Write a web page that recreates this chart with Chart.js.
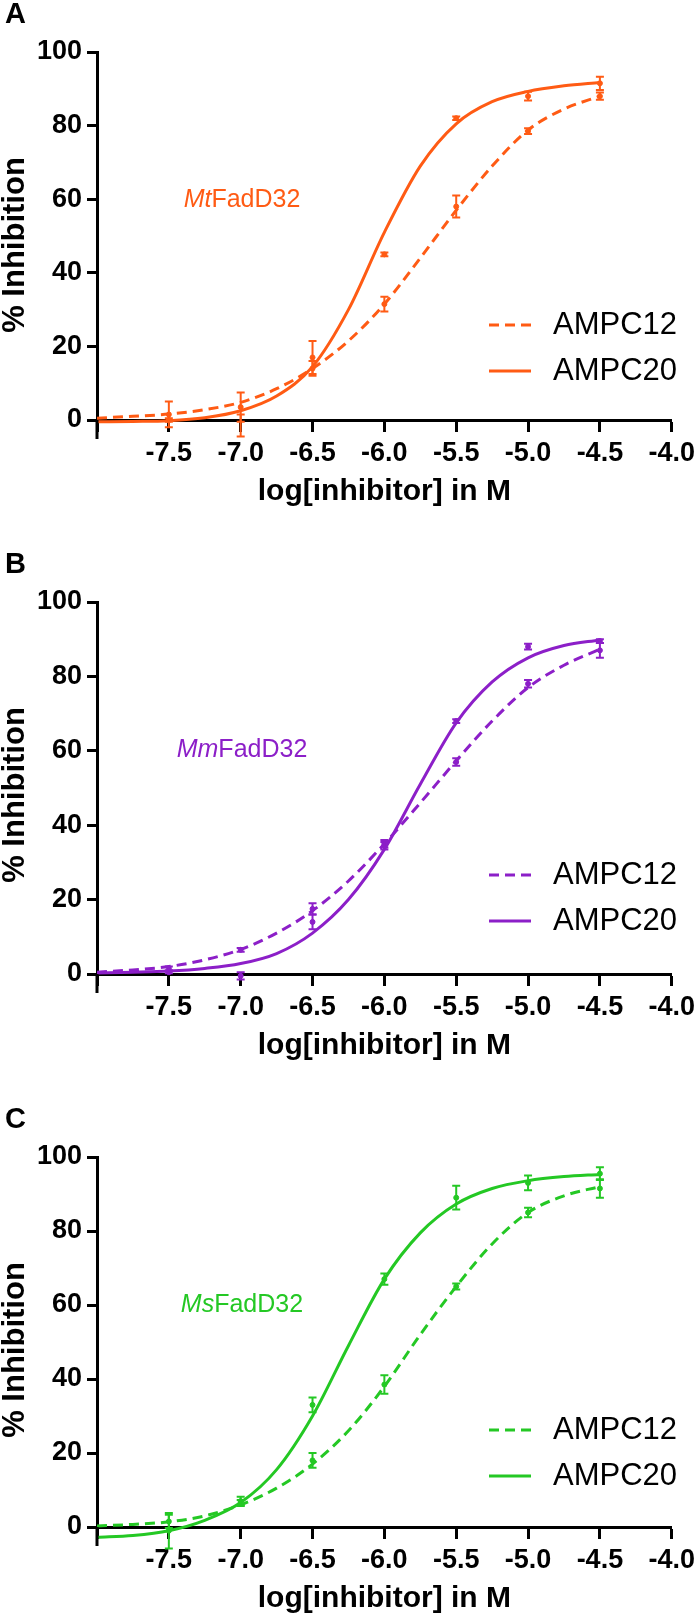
<!DOCTYPE html>
<html>
<head>
<meta charset="utf-8">
<script src="https://cdn.jsdelivr.net/npm/chart.js@4.4.1/dist/chart.umd.min.js"></script>
<style>
html, body { margin:0; padding:0; background:#fff; }
#wrap { position:relative; width:700px; height:1616px; }
canvas { position:absolute; left:0; }
</style>
</head>
<body>
<div id="wrap">
<canvas id="chartA" width="700" height="540" style="top:0px"></canvas>
<canvas id="chartB" width="700" height="540" style="top:540px"></canvas>
<canvas id="chartC" width="700" height="536" style="top:1080px"></canvas>
</div>
<script>
// tick labels
const xTickValues = [-8.0, -7.5, -7.0, -6.5, -6.0, -5.5, -5.0, -4.5, -4.0];
const yTickValues = [0, 20, 40, 60, 80, 100];
const seriesNames = ['AMPC12', 'AMPC20'];

// log[inhibitor] of the measured points
const concLog = [-7.5, -7.0, -6.5, -6.0, -5.5, -5.0, -4.5];
const fitLog = [-8.0, -7.75, -7.5, -7.25, -7.0, -6.75, -6.5, -6.25, -6.0, -5.75, -5.5, -5.25, -5.0, -4.75, -4.5];

// panel A - MtFadD32
const fitA12 = [0.5, 1.0, 1.6, 2.8, 4.8, 8.5, 14, 21.5, 31.5, 44, 57, 69, 78.8, 84.5, 88];
const fitA20 = [-0.5, -0.4, -0.2, 0.6, 2.5, 6.5, 14.5, 30, 51, 69, 80.5, 86.5, 89.3, 90.8, 91.7];
const meanA12 = [1.5, 3.5, 14, 31.5, 58, 78.5, 88];
const errA12  = [3.5, 4, 2, 2, 3, 0.8, 1];
const meanA20 = [0, -1.5, 17, 45, 82, 88, 91.5];
const errA20  = [0.5, 3, 4.5, 0.5, 0.5, 1.2, 1.8];

// panel B - MmFadD32
const fitB12 = [0.5, 1.1, 2, 3.8, 6.6, 11, 17, 25, 35, 46, 57.3, 68, 77, 83, 87.3];
const fitB20 = [0.3, 0.5, 0.8, 1.5, 2.8, 5.5, 11, 20, 33.5, 51, 67.5, 78.5, 85, 88.3, 89.8];
const meanB12 = [1.5, 6.5, 17.5, 34.5, 57, 78, 87];
const errB12  = [0.5, 0.5, 1.5, 1, 1, 1, 2];
const meanB20 = [0.5, -0.5, 14, 35, 68, 88, 89.5];
const errB20  = [0.3, 1, 2, 1, 0.5, 0.8, 0.5];

// panel C - MsFadD32
const fitC12 = [0.3, 0.7, 1.4, 3, 6, 10.5, 17, 26, 38, 52, 65, 76.5, 85, 89.5, 92];
const fitC20 = [-2.8, -2.3, -1, 1.8, 6.6, 15.5, 30, 49, 67, 79.5, 87.3, 91.5, 93.6, 94.7, 95.3];
const meanC12 = [1.5, 6.5, 18, 38.5, 65, 85, 91.5];
const errC12  = [1.8, 0.8, 2, 2.5, 0.8, 1.3, 2.5];
const meanC20 = [-1, 7, 33, 67, 89, 93, 95.5];
const errC20  = [4.8, 1.2, 2, 1.5, 3.2, 2, 1.7];

Chart.defaults.font.family = '"Liberation Sans", Arial, sans-serif';
Chart.defaults.color = '#000';

const decor = {
    id: 'decor',
    afterDatasetsDraw(chart, args, o) {
        const ctx = chart.ctx, xs = chart.scales.x, ys = chart.scales.y;
        const top = chart.chartArea.top;
        ctx.save();
        // error bars
        chart.data.datasets.forEach(ds => {
            if (!ds.errors) return;
            ctx.strokeStyle = ds.borderColor;
            ctx.lineWidth = 2;
            ds.data.forEach((p, j) => {
                const e = ds.errors[j];
                const px = xs.getPixelForValue(p.x);
                const y1 = ys.getPixelForValue(p.y + e), y2 = ys.getPixelForValue(p.y - e);
                ctx.beginPath();
                ctx.moveTo(px, y1); ctx.lineTo(px, y2);
                ctx.moveTo(px - 4, y1); ctx.lineTo(px + 4, y1);
                ctx.moveTo(px - 4, y2); ctx.lineTo(px + 4, y2);
                ctx.stroke();
            });
        });
        // y axis runs a little below the x axis
        ctx.strokeStyle = '#000';
        ctx.lineWidth = 3;
        ctx.beginPath();
        ctx.moveTo(chart.chartArea.left, chart.chartArea.bottom);
        ctx.lineTo(chart.chartArea.left, chart.chartArea.bottom + 19);
        ctx.stroke();
        // legend
        chart.data.datasets.filter(ds => ds.inLegend).forEach((ds, i) => {
            const y = top + 273 + i * 46;
            ctx.strokeStyle = ds.borderColor;
            ctx.lineWidth = 3;
            ctx.setLineDash(ds.borderDash || []);
            ctx.beginPath(); ctx.moveTo(489, y); ctx.lineTo(531, y); ctx.stroke();
            ctx.setLineDash([]);
            ctx.fillStyle = '#000';
            ctx.font = '31px "Liberation Sans", Arial, sans-serif';
            ctx.textBaseline = 'middle';
            ctx.textAlign = 'left';
            ctx.fillText(ds.label, 553, y);
        });
        // enzyme name
        ctx.fillStyle = o.color;
        ctx.textBaseline = 'middle';
        ctx.textAlign = 'left';
        const fi = 'italic 25px "Liberation Sans", Arial, sans-serif';
        const fr = '25px "Liberation Sans", Arial, sans-serif';
        ctx.font = fi; const w1 = ctx.measureText(o.prefix).width;
        ctx.font = fr; const w2 = ctx.measureText(o.suffix).width;
        const x0 = 242 - (w1 + w2) / 2, yn = top + 148;
        ctx.font = fi; ctx.fillText(o.prefix, x0, yn);
        ctx.font = fr; ctx.fillText(o.suffix, x0 + w1, yn);
        // panel letter
        ctx.fillStyle = '#000';
        ctx.font = 'bold 29px "Liberation Sans", Arial, sans-serif';
        ctx.textBaseline = 'alphabetic';
        ctx.fillText(o.letter, 5, o.letterY);
        // y title
        ctx.translate(15, top + 193);
        ctx.rotate(-Math.PI / 2);
        ctx.textAlign = 'center';
        ctx.textBaseline = 'middle';
        ctx.font = 'bold 31px "Liberation Sans", Arial, sans-serif';
        ctx.fillText('% Inhibition', 0, 0);
        ctx.restore();
    }
};

function makePanel(id, color, fit12, fit20, mean12, err12, mean20, err20, p) {
    const ctx = document.getElementById(id).getContext('2d');
    return new Chart(ctx, {
        type: 'line',
        data: {
            datasets: [
                {
                    label: seriesNames[0], inLegend: true,
                    data: fitLog.map((x, i) => ({x: x, y: fit12[i]})),
                    borderColor: color, borderWidth: 3, borderDash: [10, 6],
                    pointRadius: 0, cubicInterpolationMode: 'monotone', clip: false
                },
                {
                    label: seriesNames[1], inLegend: true,
                    data: fitLog.map((x, i) => ({x: x, y: fit20[i]})),
                    borderColor: color, borderWidth: 3,
                    pointRadius: 0, cubicInterpolationMode: 'monotone', clip: false
                },
                {
                    label: seriesNames[0] + ' data', errors: err12,
                    data: concLog.map((x, i) => ({x: x, y: mean12[i]})),
                    borderColor: color, backgroundColor: color, showLine: false,
                    pointRadius: 2.5, clip: false
                },
                {
                    label: seriesNames[1] + ' data', errors: err20,
                    data: concLog.map((x, i) => ({x: x, y: mean20[i]})),
                    borderColor: color, backgroundColor: color, showLine: false,
                    pointRadius: 2.5, clip: false
                }
            ]
        },
        options: {
            responsive: false,
            animation: false,
            layout: { padding: { top: p.top, bottom: p.bottom, left: 0, right: 24 } },
            plugins: {
                legend: { display: false },
                tooltip: { enabled: false },
                decor: { color: color, prefix: p.prefix, suffix: 'FadD32', letter: p.letter, letterY: p.letterY }
            },
            scales: {
                x: {
                    type: 'linear', min: -8, max: -4,
                    afterBuildTicks: s => { s.ticks = xTickValues.map(v => ({value: v})); },
                    afterFit: s => { s.height = 89; },
                    ticks: {
                        padding: 5,
                        font: { size: 27, weight: 'bold' },
                        callback: v => v === -8 ? '' : v.toFixed(1)
                    },
                    grid: { drawOnChartArea: false, drawTicks: true, tickLength: 12, tickWidth: 3, tickColor: '#000' },
                    border: { display: true, color: '#000', width: 3 },
                    title: {
                        display: true, text: 'log[inhibitor] in M',
                        font: { size: 30, weight: 'bold', lineHeight: 1.15 }, padding: 0
                    }
                },
                y: {
                    min: 0, max: 100,
                    afterBuildTicks: s => { s.ticks = yTickValues.map(v => ({value: v})); },
                    afterFit: s => { s.width = 97; },
                    ticks: { padding: 5, font: { size: 27, weight: 'bold' } },
                    grid: { drawOnChartArea: false, drawTicks: true, tickLength: 10, tickWidth: 3, tickColor: '#000' },
                    border: { display: true, color: '#000', width: 3 }
                }
            }
        },
        plugins: [decor]
    });
}

makePanel('chartA', '#FF5B14', fitA12, fitA20, meanA12, errA12, meanA20, errA20,
    { top: 52, bottom: 31, prefix: 'Mt', letter: 'A', letterY: 23 });
makePanel('chartB', '#8C1FC8', fitB12, fitB20, meanB12, errB12, meanB20, errB20,
    { top: 62, bottom: 17, prefix: 'Mm', letter: 'B', letterY: 33 });
makePanel('chartC', '#24C824', fitC12, fitC20, meanC12, errC12, meanC20, errC20,
    { top: 77, bottom: 0, prefix: 'Ms', letter: 'C', letterY: 48 });
</script>
</body>
</html>
